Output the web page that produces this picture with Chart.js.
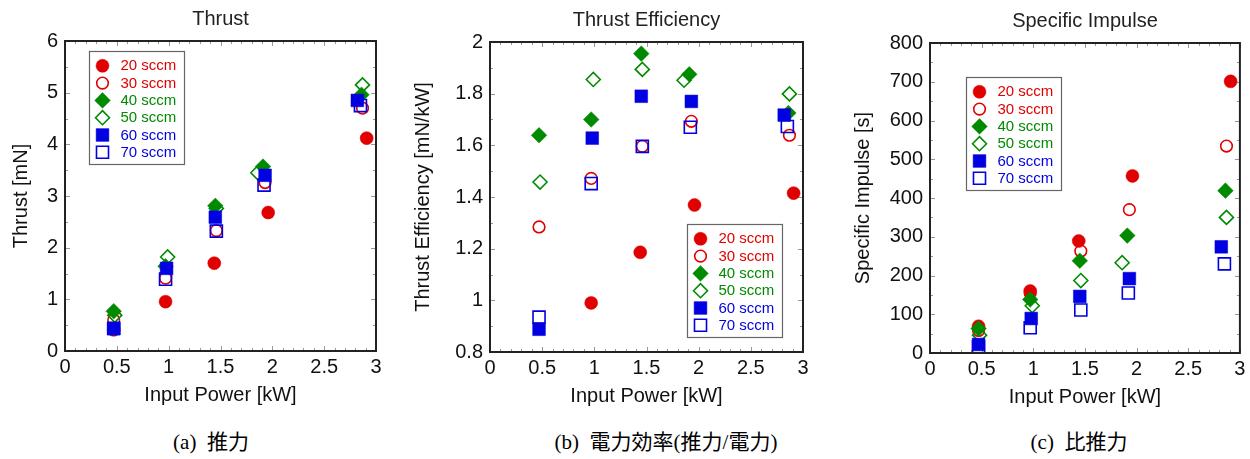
<!DOCTYPE html>
<html>
<head>
<meta charset="utf-8">
<script src="https://cdn.jsdelivr.net/npm/chart.js@4"></script>
<style>
body { margin: 0; background: #fff; width: 1250px; height: 459px; overflow: hidden; position: relative; }
.panel { position: absolute; }
.cap { position: absolute; top: 425px; width: 340px; text-align: center; white-space: pre;
       font: 21px "Liberation Serif", "Noto Sans CJK JP", serif; color: #000; }
</style>
</head>
<body>
<div class="panel" style="left:0px;top:0px"><canvas id="thrustChart" width="390" height="412"></canvas></div>
<div class="panel" style="left:402px;top:1px"><canvas id="effChart" width="413" height="412"></canvas></div>
<div class="panel" style="left:842px;top:2px"><canvas id="ispChart" width="408" height="412"></canvas></div>

<div class="cap" style="left:41px">(a)  推力</div>
<div class="cap" style="left:496px">(b)  電力効率(推力/電力)</div>
<div class="cap" style="left:909px">(c)  比推力</div>

<script>
// flow rates (one series each)
var flowLabels = ['20 sccm', '30 sccm', '40 sccm', '50 sccm', '60 sccm', '70 sccm'];

// input power [kW] for each flow rate
var power = [
  [0.47, 0.97, 1.44, 1.96, 2.91],
  [0.47, 0.97, 1.46, 1.93, 2.87],
  [0.47, 0.97, 1.45, 1.91, 2.86],
  [0.48, 0.99, 1.46, 1.86, 2.87],
  [0.47, 0.98, 1.45, 1.93, 2.82],
  [0.47, 0.97, 1.46, 1.92, 2.85]
];

// thrust [mN]
var thrust = [
  [0.41, 0.955, 1.70, 2.68, 4.12],
  [0.60, 1.41, 2.33, 3.26, 4.70],
  [0.77, 1.64, 2.81, 3.57, 4.96],
  [0.69, 1.82, 2.76, 3.45, 5.15],
  [0.43, 1.60, 2.59, 3.40, 4.85],
  [0.44, 1.39, 2.32, 3.21, 4.75]
];

// thrust efficiency [mN/kW] (20 sccm at 0.5 kW is below the axis)
var efficiency = [
  [null, 0.99, 1.186, 1.369, 1.415],
  [1.284, 1.472, 1.596, 1.693, 1.639],
  [1.639, 1.70, 1.955, 1.875, 1.725],
  [1.458, 1.855, 1.894, 1.852, 1.799],
  [0.888, 1.628, 1.790, 1.770, 1.717],
  [0.935, 1.452, 1.596, 1.670, 1.673]
];

// specific impulse [s]
var isp = [
  [69, 160, 289, 457, 701],
  [58, 155, 263, 370, 534],
  [63, 138, 238, 303, 419],
  [46, 122, 187, 233, 350],
  [22, 89, 146, 192, 274],
  [16, 65, 111, 155, 230]
];

// marker styles
var seriesColors = ['#e00000', '#e00000', '#008a00', '#008a00', '#0000e0', '#0000e0'];
var markerStyles = ['circle', 'circle', 'rectRot', 'rectRot', 'rect', 'rect'];
var markerFilled = [true, false, true, false, true, false];
var markerRadius = [6.5, 5.8, 7.8, 7, 9, 8.5];

var FONT = '"Liberation Sans", Arial, Helvetica, sans-serif';
Chart.defaults.font.family = FONT;
Chart.defaults.color = '#111';

function fmt(v) {
  return String(Math.round(v * 1000) / 1000);
}

// inner tick marks and the black frame round the plot
var framePlugin = {
  id: 'frame',
  beforeDatasetsDraw: function(chart, args, opts) {
    var ctx = chart.ctx, a = chart.chartArea;
    var xs = chart.scales.x, ys = chart.scales.y;
    ctx.save();
    ctx.strokeStyle = '#999';
    ctx.lineWidth = 1;
    ctx.beginPath();
    var n, k, v, p, len;
    n = Math.round((xs.max - xs.min) / opts.xMinor);
    for (k = 0; k <= n; k++) {
      v = xs.min + k * opts.xMinor;
      p = Math.round(xs.getPixelForValue(v)) + 0.5;
      len = (k % Math.round(opts.xMajor / opts.xMinor) === 0) ? 5 : 3;
      ctx.moveTo(p, a.bottom); ctx.lineTo(p, a.bottom - len);
      ctx.moveTo(p, a.top); ctx.lineTo(p, a.top + len);
    }
    n = Math.round((ys.max - ys.min) / opts.yMinor);
    for (k = 0; k <= n; k++) {
      v = ys.min + k * opts.yMinor;
      p = Math.round(ys.getPixelForValue(v)) + 0.5;
      len = (k % 2 === 0) ? 5 : 3;
      ctx.moveTo(a.left, p); ctx.lineTo(a.left + len, p);
      ctx.moveTo(a.right, p); ctx.lineTo(a.right - len, p);
    }
    ctx.stroke();
    ctx.restore();
  },
  afterDatasetsDraw: function(chart) {
    var ctx = chart.ctx, a = chart.chartArea;
    ctx.save();
    ctx.strokeStyle = '#222';
    ctx.lineWidth = 2;
    ctx.strokeRect(a.left, a.top, a.right - a.left, a.bottom - a.top);
    ctx.restore();
  }
};

// legend box placed inside the plot
var legendPlugin = {
  id: 'innerLegend',
  afterDraw: function(chart, args, opts) {
    var ctx = chart.ctx, a = chart.chartArea;
    var bx = Math.round(a.left + opts.dx) + 0.5, by = Math.round(a.top + opts.dy) + 0.5;
    ctx.save();
    ctx.fillStyle = '#fff';
    ctx.fillRect(bx, by, 95, 113);
    ctx.strokeStyle = '#666';
    ctx.lineWidth = 1.2;
    ctx.strokeRect(bx, by, 95, 113);
    ctx.font = '15px ' + FONT;
    ctx.textBaseline = 'middle';
    ctx.textAlign = 'left';
    chart.data.datasets.forEach(function(ds, i) {
      var cy = by + 14.3 + i * 17.3;
      ctx.fillStyle = ds.pointBackgroundColor;
      ctx.strokeStyle = ds.pointBorderColor;
      ctx.lineWidth = ds.pointBorderWidth;
      Chart.helpers.drawPoint(ctx, {
        pointStyle: ds.pointStyle, radius: ds.pointRadius, rotation: 0, borderWidth: ds.pointBorderWidth
      }, bx + 13, cy);
      ctx.fillStyle = ds.pointBorderColor;
      ctx.fillText(ds.label, bx + 31, cy + 0.5);
    });
    ctx.restore();
  }
};

function makeChart(id, o) {
  var datasets = flowLabels.map(function(label, i) {
    var pts = [];
    power[i].forEach(function(p, k) {
      if (o.values[i][k] !== null) pts.push({ x: p, y: o.values[i][k] });
    });
    return {
      label: label,
      data: pts,
      pointStyle: markerStyles[i],
      pointRadius: markerRadius[i],
      pointBackgroundColor: markerFilled[i] ? seriesColors[i] : 'rgba(255,255,255,0)',
      pointBorderColor: seriesColors[i],
      pointBorderWidth: markerFilled[i] ? 0.5 : 1.6,
      showLine: false,
      order: flowLabels.length - i
    };
  });

  return new Chart(document.getElementById(id), {
    type: 'scatter',
    data: { datasets: datasets },
    options: {
      responsive: false,
      animation: false,
      events: [],
      layout: { padding: { left: 0, right: o.padRight, top: 0, bottom: 0 } },
      plugins: {
        legend: { display: false },
        tooltip: { enabled: false },
        title: {
          display: true, text: o.title, fullSize: false, color: '#222',
          font: { size: 20, weight: 'normal' }, padding: { top: 7, bottom: 10 }
        },
        innerLegend: { dx: o.legend[0], dy: o.legend[1] },
        frame: { xMinor: 0.1, xMajor: 0.5, yMinor: o.yStep / 2 }
      },
      scales: {
        x: {
          type: 'linear', min: 0, max: 3,
          afterFit: function(s) { s.height = 61; },
          ticks: { stepSize: 0.5, padding: 4, maxRotation: 0, font: { size: 20 }, color: '#111', callback: fmt },
          grid: { display: false, drawTicks: false },
          border: { display: false },
          title: { display: true, text: 'Input Power [kW]', color: '#111', font: { size: 20 }, padding: { top: 0, bottom: 5 } }
        },
        y: {
          type: 'linear', min: o.yMin, max: o.yMax,
          afterFit: function(s) { s.width = o.yWidth; },
          ticks: { stepSize: o.yStep, padding: 7, font: { size: 20 }, color: '#111', callback: fmt },
          grid: { display: false, drawTicks: false },
          border: { display: false },
          title: { display: true, text: o.yTitle, color: '#111', font: { size: 20 }, padding: { top: 9, bottom: 0 } }
        }
      }
    },
    plugins: [framePlugin, legendPlugin]
  });
}

makeChart('thrustChart', {
  title: 'Thrust', yTitle: 'Thrust [mN]', values: thrust,
  yMin: 0, yMax: 6, yStep: 1, yWidth: 65, padRight: 14, legend: [24, 10]
});
makeChart('effChart', {
  title: 'Thrust Efficiency', yTitle: 'Thrust Efficiency [mN/kW]', values: efficiency,
  yMin: 0.8, yMax: 2, yStep: 0.2, yWidth: 88, padRight: 12, legend: [197, 182]
});
makeChart('ispChart', {
  title: 'Specific Impulse', yTitle: 'Specific Impulse [s]', values: isp,
  yMin: 0, yMax: 800, yStep: 100, yWidth: 88, padRight: 9, legend: [36, 34]
});
</script>
</body>
</html>
